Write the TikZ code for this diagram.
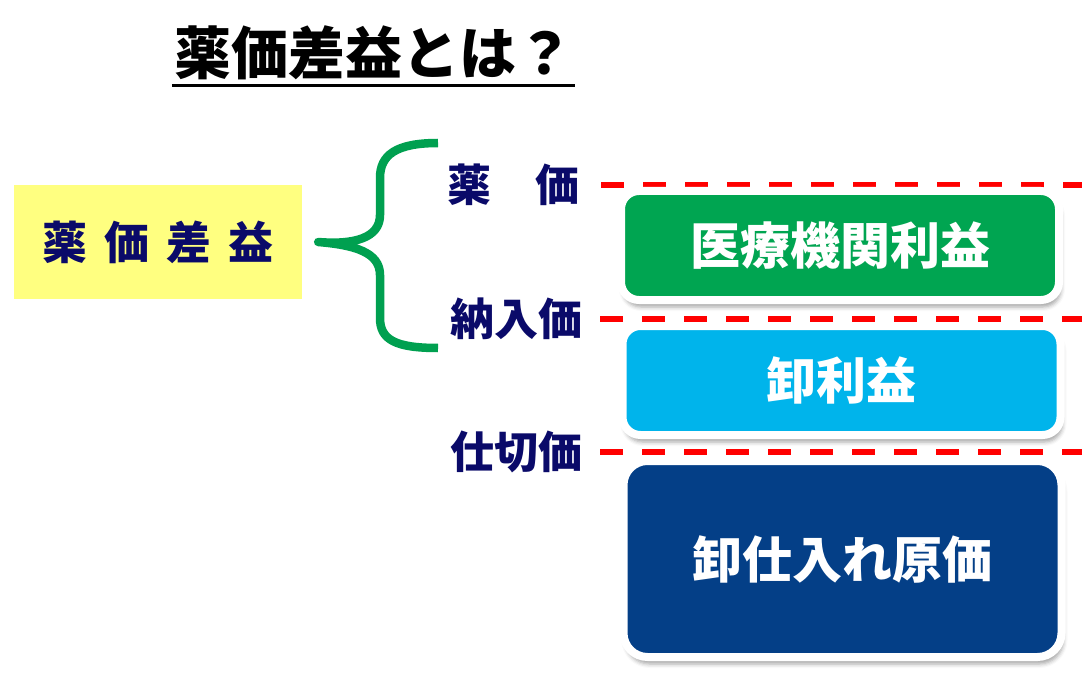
\documentclass[tikz,border=0pt]{standalone}
\usepackage{fontspec}
\newfontfamily\jp{Noto Sans CJK JP}
\usepackage{tikz}
\usetikzlibrary{positioning,calc,shadows,shadows.blur}
\definecolor{slidegreen} {RGB}{0,165,81}
\definecolor{slidecyan}  {RGB}{0,180,235}
\definecolor{slidenavy}  {RGB}{4,63,135}
\definecolor{slidered}   {RGB}{255,0,0}
\definecolor{slideyellow}{RGB}{255,255,128}
\definecolor{slideink}   {RGB}{10,10,105}
\definecolor{bracegreen} {RGB}{0,160,80}

\begin{document}
\begin{tikzpicture}[
  x=1pt,y=-1pt,
  head/.style={inner sep=0pt,text=black,
               font={\jp\bfseries\fontsize{57}{60}\selectfont}},
  yakka/.style={fill=slideyellow,minimum width=288pt,minimum height=114pt,
                inner sep=0pt,text=slideink,
                font={\jp\bfseries\fontsize{45}{48}\selectfont}},
  band/.style={draw=white,line width=8pt,rounded corners=18pt,
               minimum width=438pt,minimum height=109pt,inner sep=0pt,
               text=white,font={\jp\bfseries\fontsize{50}{54}\selectfont},
               blur shadow={shadow xshift=2pt,shadow yshift=-7pt,
                            shadow blur radius=4pt,shadow opacity=35}},
  lbl/.style={anchor=west,inner sep=0pt,text=slideink,
              font={\jp\bfseries\fontsize{44}{48}\selectfont}},
  brace/.style={draw=bracegreen,line width=8.5pt,line join=round},
  cut/.style={draw=slidered,line width=5.5pt,dash pattern=on 23pt off 19pt},
]
\useasboundingbox (0,0) rectangle (1082,679);

%% ── Title ────────────────────────────────────────────────────────────────────
\node[head] (title) at (373.5,53) {薬価差益とは？};
\draw[line width=3.5pt] ([shift={(-2pt,-5pt)}]title.south west)
  -- ([shift={(2pt,-5pt)}]title.south east);

%% ── Term box and brace ───────────────────────────────────────────────────────
\node[yakka] (term) at (158,242)
  {薬\hspace{17pt}価\hspace{17pt}差\hspace{17pt}益};

\coordinate (tip) at ([xshift=16pt]term.east);
\draw[brace] (438,143) .. controls (396,143) and (380,155) .. (380,178)
  -- (380,215) .. controls (380,238) and (354,245) .. (tip)
  .. controls (354,245) and (380,252) .. (380,275)
  -- (380,318) .. controls (380,340) and (396,348) .. (438,348);

%% ── Price labels ─────────────────────────────────────────────────────────────
\node[lbl] (lblYakka)   at (447,185) {薬　価};
\node[lbl] (lblNonyu)   at (450,319) {納入価};
\node[lbl] (lblShikiri) at (450,452) {仕切価};

%% ── Dashed price levels ──────────────────────────────────────────────────────
\coordinate (rim) at (1082,0);
\draw[cut] ([xshift=22pt]lblYakka.east) -- (lblYakka.east -| rim);
\draw[cut] ([xshift=18pt]lblNonyu.east) -- (lblNonyu.east -| rim);
\draw[cut] ([xshift=18pt]lblShikiri.east) -- (lblShikiri.east -| rim);

%% ── Stacked bands ────────────────────────────────────────────────────────────
\node[band,fill=slidegreen] (clinic) at (840,245.5) {医療機関利益};
\node[band,fill=slidecyan]  (margin) at (841.5,380.5) {卸利益};
\node[band,fill=slidenavy,minimum height=196pt,rounded corners=24pt]
  (cost) at (842.5,559) {卸仕入れ原価};

\end{tikzpicture}
\end{document}
